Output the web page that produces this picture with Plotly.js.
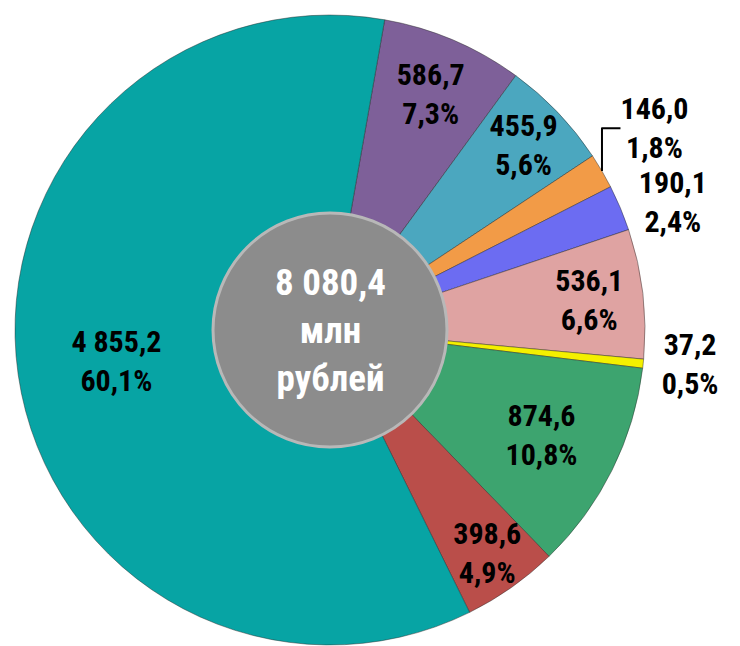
<!DOCTYPE html>
<html>
<head>
<meta charset="utf-8">
<script src="https://cdn.plot.ly/plotly-3.0.1.min.js"></script>
<style>html,body{margin:0;padding:0;background:#fff;}#chart{width:740px;height:646px;}</style>
</head>
<body>
<div id="chart"></div>
<script>
const categories = ['Сегмент 1','Сегмент 2','Сегмент 3','Сегмент 4','Сегмент 5','Сегмент 6','Сегмент 7','Сегмент 8','Сегмент 9'];
const values = [586.7, 455.9, 146.0, 190.1, 536.1, 37.2, 874.6, 398.6, 4855.2];
const colors = ['#7E6099','#4BA7BF','#F29B47','#6C6CF2','#DFA3A2','#F4F000','#3DA46F','#BA4E4A','#07A4A4'];
const textPositions = ['inside','inside','outside','outside','inside','outside','inside','inside','inside'];
const unitLines = ['млн','рублей'];

const narrow = "'Roboto Condensed',Roboto,sans-serif";

const total = values.reduce((a,b)=>a+b,0);
function fmt(v){
  const s = v.toFixed(1).split('.');
  const int = s[0].replace(/\B(?=(\d{3})+(?!\d))/g,' ');
  return int + ',' + s[1];
}

const W = 740, H = 646;
const cx = 330, cy = 330, R = 315, r0 = 117;

const main = {
  type: 'pie',
  labels: categories,
  values: values,
  sort: false,
  direction: 'clockwise',
  rotation: 10,
  hole: 0.37,
  marker: {colors: colors, line: {color: 'rgba(40,40,40,0.45)', width: 1}},
  texttemplate: '%{value:,.1f}<br>%{percent:.1%}',
  textposition: textPositions,
  insidetextorientation: 'horizontal',
  textfont: {family: narrow, size: 30, color: '#000', weight: 'bold'},
  outsidetextfont: {family: narrow, size: 30, color: '#000', weight: 'bold'},
  domain: {x: [(cx-R)/W, (cx+R)/W], y: [(H-cy-R)/H, (H-cy+R)/H]},
  showlegend: false,
  hoverinfo: 'none'
};

const centre = {
  type: 'pie',
  labels: ['Итого'],
  values: [total],
  sort: false,
  marker: {colors: ['#8C8C8C'], line: {color: '#B8B8B8', width: 3}},
  textinfo: 'none',
  domain: {x: [(cx-r0)/W, (cx+r0)/W], y: [(H-cy-r0)/H, (H-cy+r0)/H]},
  showlegend: false,
  hoverinfo: 'none'
};

const layout = {
  width: W, height: H,
  margin: {l:0, r:0, t:0, b:0},
  paper_bgcolor: '#fff',
  separators: ', ',
  uniformtext: {minsize: 30, mode: 'show'},
  showlegend: false,
  annotations: [{
    xref: 'paper', yref: 'paper',
    x: cx/W, y: (H-cy)/H,
    xanchor: 'center', yanchor: 'middle',
    showarrow: false,
    text: '<b>' + fmt(total) + '<br>' + unitLines.join('<br>') + '</b>',
    font: {family: narrow, size: 37, color: '#fff'}
  }]
};

Plotly.newPlot('chart', [main, centre], layout, {staticPlot: true});
</script>
</body>
</html>
